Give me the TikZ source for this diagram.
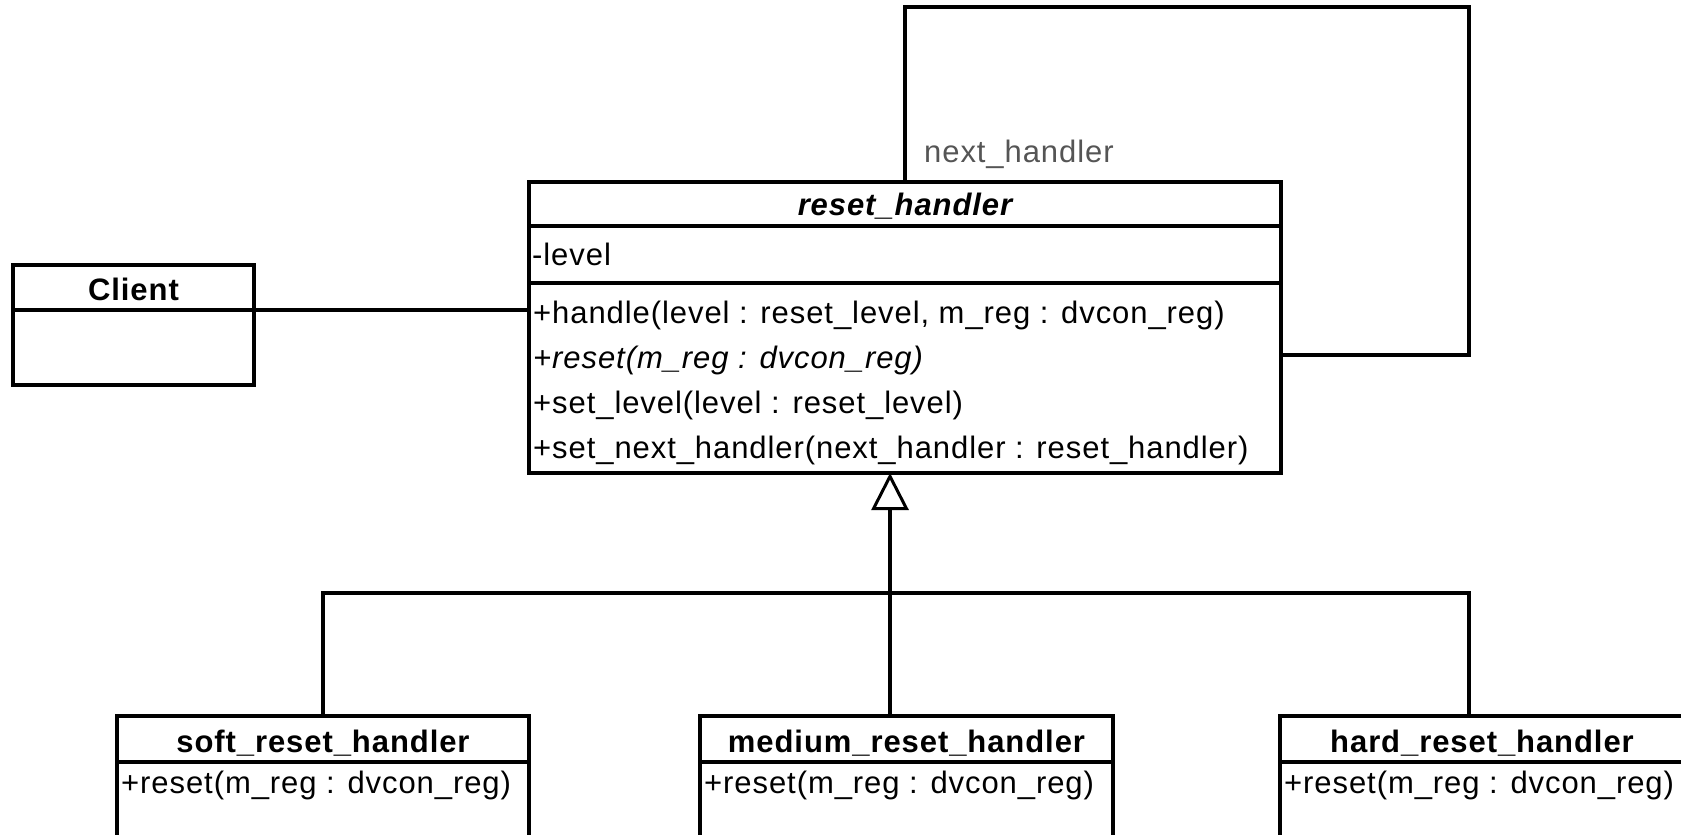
\documentclass[tikz,border=0pt]{standalone}
\usepackage{fontspec}
\setmainfont{Liberation Sans}[LetterSpace=3]
\usetikzlibrary{arrows.meta}
\definecolor{lblgray}{RGB}{85,85,85}
\tikzset{
  classbox/.style={draw, line width=3.5pt, inner sep=0pt, outer sep=0pt, anchor=north west},
  divline/.style={line width=3.5pt},
  conn/.style={line width=3.5pt},
  gen/.style={line width=3.5pt, -{Triangle[open, length=37pt, width=37pt, line width=3pt]}},
  ttl/.style={font=\fontsize{31}{36}\selectfont\bfseries, inner sep=0pt, anchor=base},
  ttlit/.style={font=\fontsize{31}{36}\selectfont\bfseries\itshape, inner sep=0pt, anchor=base},
  mem/.style={font=\fontsize{31}{36}\selectfont, inner sep=0pt, anchor=base west},
  lbl/.style={font=\fontsize{31}{36}\selectfont, text=lblgray, inner sep=0pt, anchor=base west}
}
\begin{document}
\begin{tikzpicture}[x=1pt,y=-1pt]
\useasboundingbox (0,0) rectangle (1681,835);
\clip (0,0) rectangle (1681,835);

% Client
\node[classbox, minimum width=241pt, minimum height=120pt] (client) at (13,265) {};
\coordinate (cdivL) at (13,310);
\coordinate (cdivR) at (254,310);
\draw[divline] (cdivL) -- (cdivR);
\node[ttl] (clientT) at (133.5,300) {Client};

% reset_handler
\node[classbox, minimum width=752pt, minimum height=291pt] (rh) at (529,182) {};
\coordinate (rd1L) at (529,226);
\coordinate (rd1R) at (1281,226);
\coordinate (rd2L) at (529,283);
\coordinate (rd2R) at (1281,283);
\draw[divline] (rd1L) -- (rd1R);
\draw[divline] (rd2L) -- (rd2R);
\node[ttlit] (rhT) at (905,215) {reset\_handler};
\node[mem] (rhA) at (532,265) {-level};
\node[mem] (rhM1) at (533,323) {+handle(level : reset\_level, m\_reg : dvcon\_reg)};
\node[mem] (rhM2) at (533,368) {\itshape +reset(m\_reg : dvcon\_reg)};
\node[mem] (rhM3) at (533,413) {+set\_level(level : reset\_level)};
\node[mem] (rhM4) at (533,458) {+set\_next\_handler(next\_handler : reset\_handler)};

% subclasses
\node[classbox, minimum width=412pt, minimum height=200pt] (soft) at (117,716) {};
\coordinate (sdL) at (117,762);
\coordinate (sdR) at (529,762);
\draw[divline] (sdL) -- (sdR);
\node[ttl] (softT) at (323,752) {soft\_reset\_handler};
\node[mem] (softM) at (121,793) {+reset(m\_reg : dvcon\_reg)};

\node[classbox, minimum width=413pt, minimum height=200pt] (medium) at (700,716) {};
\coordinate (mdL) at (700,762);
\coordinate (mdR) at (1113,762);
\draw[divline] (mdL) -- (mdR);
\node[ttl] (mediumT) at (906.5,752) {medium\_reset\_handler};
\node[mem] (mediumM) at (704,793) {+reset(m\_reg : dvcon\_reg)};

\node[classbox, minimum width=404pt, minimum height=200pt] (hard) at (1280,716) {};
\coordinate (hdL) at (1280,762);
\coordinate (hdR) at (1684,762);
\draw[divline] (hdL) -- (hdR);
\node[ttl] (hardT) at (1482,752) {hard\_reset\_handler};
\node[mem] (hardM) at (1284,793) {+reset(m\_reg : dvcon\_reg)};

% association Client -- reset_handler
\draw[conn] (client.east |- cdivR) -- (rh.west |- cdivR);

% self association
\coordinate (loopTL) at (905,7);
\coordinate (loopTR) at (1469,7);
\coordinate (loopBR) at (1469,355);
\draw[conn] (rh.north -| loopTL) -- (loopTL) -- (loopTR) -- (loopBR) -- (rh.east |- loopBR);
\node[lbl] (nextlbl) at (924,162) {next\_handler};

% generalization
\coordinate (gx) at (890,593);
\coordinate (barR) at (1469,593);
\draw[gen] (medium.north -| gx) -- (rh.south -| gx);
\draw[conn] (soft.north) -- (soft.north |- gx) -- (barR) -- (hard.north -| barR);
\end{tikzpicture}
\end{document}
